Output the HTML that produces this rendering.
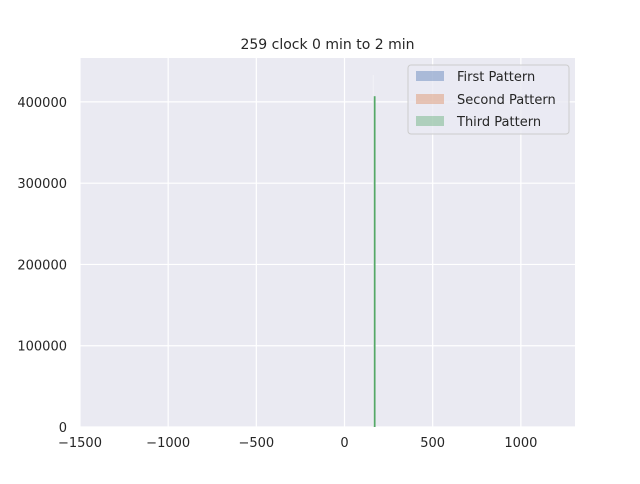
<!DOCTYPE html>
<html><head><meta charset="utf-8"><style>
body{margin:0;background:#fff;font-family:"DejaVu Sans","Liberation Sans",sans-serif}
</style></head><body>
<svg id="c" width="640" height="480" xmlns="http://www.w3.org/2000/svg">
<rect width="640" height="480" fill="#fff"/>
<rect x="80" y="58" width="495" height="369" fill="#eaeaf2"/>
<g id="grid"></g><g id="bars"></g><g id="ticks"></g>
<text x="327.5" y="49" text-anchor="middle" font-size="14" fill="#262626">259 clock 0 min to 2 min</text>
<g>
<rect x="408" y="65" width="161" height="69" rx="3" fill="#eaeaf2" fill-opacity="0.8" stroke="#cccccc"/>
<g><rect x="416" y="71" width="28" height="10" fill="#4c72b0" fill-opacity="0.4"/><text x="457" y="81" font-size="13" fill="#262626">First Pattern</text></g>
<g><rect x="416" y="94" width="28" height="10" fill="#dd8452" fill-opacity="0.4"/><text x="457" y="104" font-size="13" fill="#262626">Second Pattern</text></g>
<g><rect x="416" y="116" width="28" height="10" fill="#55a868" fill-opacity="0.4"/><text x="457" y="126" font-size="13" fill="#262626">Third Pattern</text></g>
</g>
</svg>
<script>
const xTicks=[-1500,-1000,-500,0,500,1000];
const yTicks=[0,100000,200000,300000,400000];
const binStarts=[160,166];
const binWidths=[6,10];
const firstCounts=[433000,0];
const thirdCounts=[0,407000];
const NS="http://www.w3.org/2000/svg";
const X0=80,X1=575,Y0=427,Y1=58,xmin=-1500,xmax=1307,ymax=454000;
const sx=v=>X0+(v-xmin)/(xmax-xmin)*(X1-X0);
const sy=v=>Y0-v/ymax*(Y0-Y1);
function mk(t,a,p){const e=document.createElementNS(NS,t);for(const k in a)e.setAttribute(k,a[k]);p.appendChild(e);return e;}
const g=document.getElementById('grid'),tk=document.getElementById('ticks'),b=document.getElementById('bars');
xTicks.forEach(v=>{const x=sx(v);
const l=mk('line',{x1:x,x2:x,y1:Y1,y2:Y0,stroke:'#fff','stroke-width':1.2},g);


const t=mk('text',{x:x,y:447,'text-anchor':'middle','font-size':13,fill:'#262626'},tk);t.textContent=String(v).replace('-','\u2212');

});
yTicks.forEach(v=>{const y=sy(v);
const l=mk('line',{x1:X0,x2:X1,y1:y,y2:y,stroke:'#fff','stroke-width':1.2},g);


const t=mk('text',{x:67,y:y+5,'text-anchor':'end','font-size':13,fill:'#262626'},tk);t.textContent=v;

});
binStarts.forEach((s,i)=>{
if(firstCounts[i]>0){const r=mk('rect',{x:sx(s),y:sy(firstCounts[i]),width:Math.max(1,sx(s+binWidths[i])-sx(s)),height:Y0-sy(firstCounts[i]),fill:'#f2f2f6'},b);

}
if(thirdCounts[i]>0){const r=mk('rect',{x:sx(s),y:sy(thirdCounts[i]),width:Math.max(1.5,sx(s+binWidths[i])-sx(s)),height:Y0-sy(thirdCounts[i]),fill:'#55a868'},b);

}
});
</script>
</body></html>
